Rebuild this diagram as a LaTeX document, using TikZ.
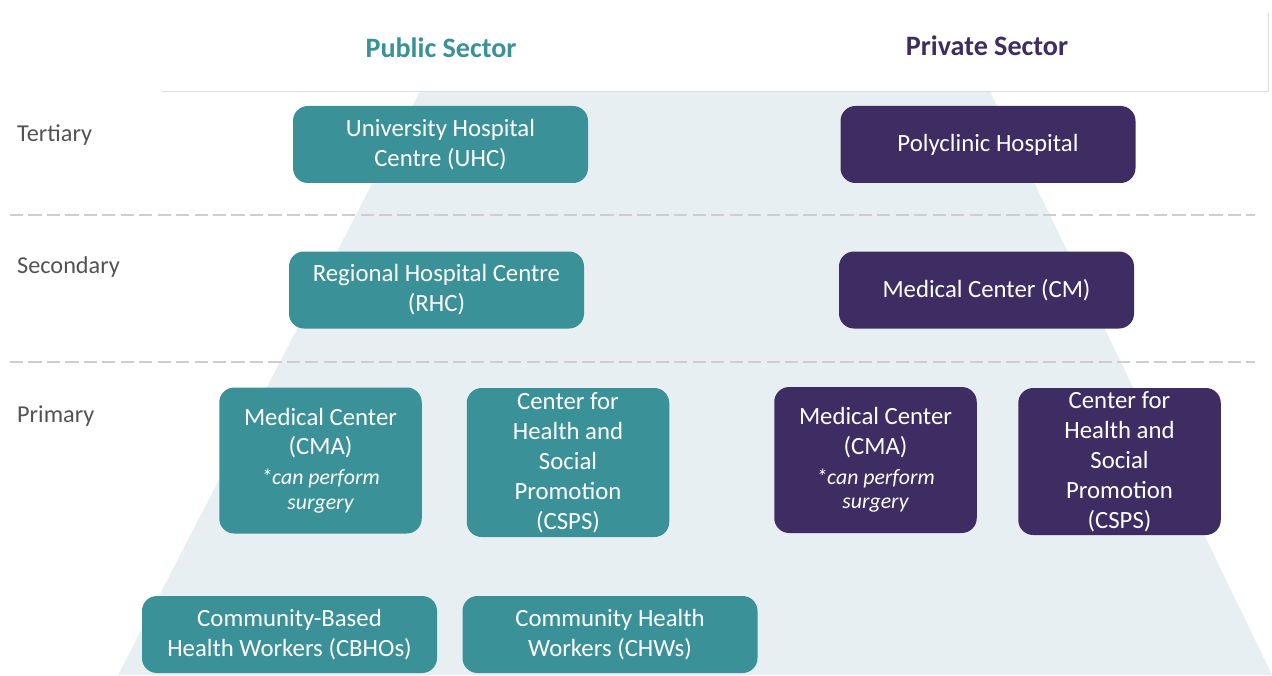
\documentclass[tikz,border=0pt]{standalone}
\usepackage{fontspec}
\setmainfont{Carlito}
\definecolor{tealbox}{RGB}{58,145,151}
\definecolor{plum}{RGB}{62,45,98}
\definecolor{haze}{RGB}{231,239,242}
\definecolor{rulegray}{RGB}{206,206,208}
\newcommand{\surgnote}{{\fontsize{12.4}{14}\selectfont\itshape *can perform}\\[-3pt]{\fontsize{12.4}{14}\selectfont\itshape surgery}}
\tikzset{
  unit/.style={rounded corners=8.5pt,text=white,align=center,inner sep=0pt,
    font=\fontsize{14.1}{17}\selectfont},
  pub/.style={unit,fill=tealbox},
  priv/.style={unit,fill=plum},
  wide/.style={minimum width=5.9cm,minimum height=1.54cm},
  narrow/.style={minimum width=4.05cm,minimum height=2.92cm},
  lvl/.style={anchor=west,text=black!68,font=\fontsize{13.8}{16}\selectfont},
  head/.style={font=\fontsize{16}{19}\selectfont\bfseries},
  tierline/.style={draw=rulegray,line width=1.6pt,dash pattern=on 7.5pt off 3pt}
}

\begin{document}
\begin{tikzpicture}
  \useasboundingbox (0,0) rectangle (25.44,13.5);
  \coordinate (TL) at (8.40,11.68);
  \coordinate (TR) at (19.80,11.68);
  \coordinate (BR) at (25.44,0);
  \coordinate (BL) at (2.36,0);

  \fill[haze] (TL)--(TR)--(BR)--(BL)--cycle;

  % header strip
  \fill[white] (3.24,11.68) rectangle (25.36,13.24);
  \draw[black!13,thin] (3.24,11.68)--(25.36,11.68)--(25.36,13.24);
  \node[head,text=tealbox] (pubhead) at (8.82,12.54) {Public Sector};
  \node[head,text=plum] (privhead) at (19.74,12.58) {Private Sector};

  \draw[tierline] (0.2,9.2)--(25.1,9.2);
  \draw[tierline] (0.2,6.26)--(25.1,6.26);

  \node[lvl] (tert) at (0.22,10.8) {Tertiary};
  \node[lvl] (sec) at (0.22,8.15) {Secondary};
  \node[lvl] (prim) at (0.22,5.17) {Primary};

  \node[pub,wide] (uhc) at (8.81,10.61) {University Hospital\\Centre (UHC)};
  \node[priv,wide] (poly) at (19.76,10.61) {Polyclinic Hospital};
  \node[pub,wide] (rhc) at (8.73,7.70) {Regional Hospital Centre\\(RHC)};
  \node[priv,wide] (cm) at (19.73,7.70) {Medical Center (CM)};

  \node[pub,narrow] (cmapub) at (6.41,4.29) {Medical Center\\(CMA)\\\surgnote};
  \node[pub,narrow,minimum height=2.98cm] (cspspub) at (11.36,4.25) {Center for\\Health and\\Social\\Promotion\\(CSPS)};
  \node[priv,narrow] (cmapriv) at (17.51,4.30) {Medical Center\\(CMA)\\\surgnote};
  \node[priv,narrow,minimum height=2.94cm] (cspspriv) at (22.39,4.27) {Center for\\Health and\\Social\\Promotion\\(CSPS)};

  \node[pub,wide] (cbho) at (5.79,0.81) {Community-Based\\Health Workers (CBHOs)};
  \node[pub,wide] (chw) at (12.20,0.81) {Community Health\\Workers (CHWs)};
\end{tikzpicture}
\end{document}
